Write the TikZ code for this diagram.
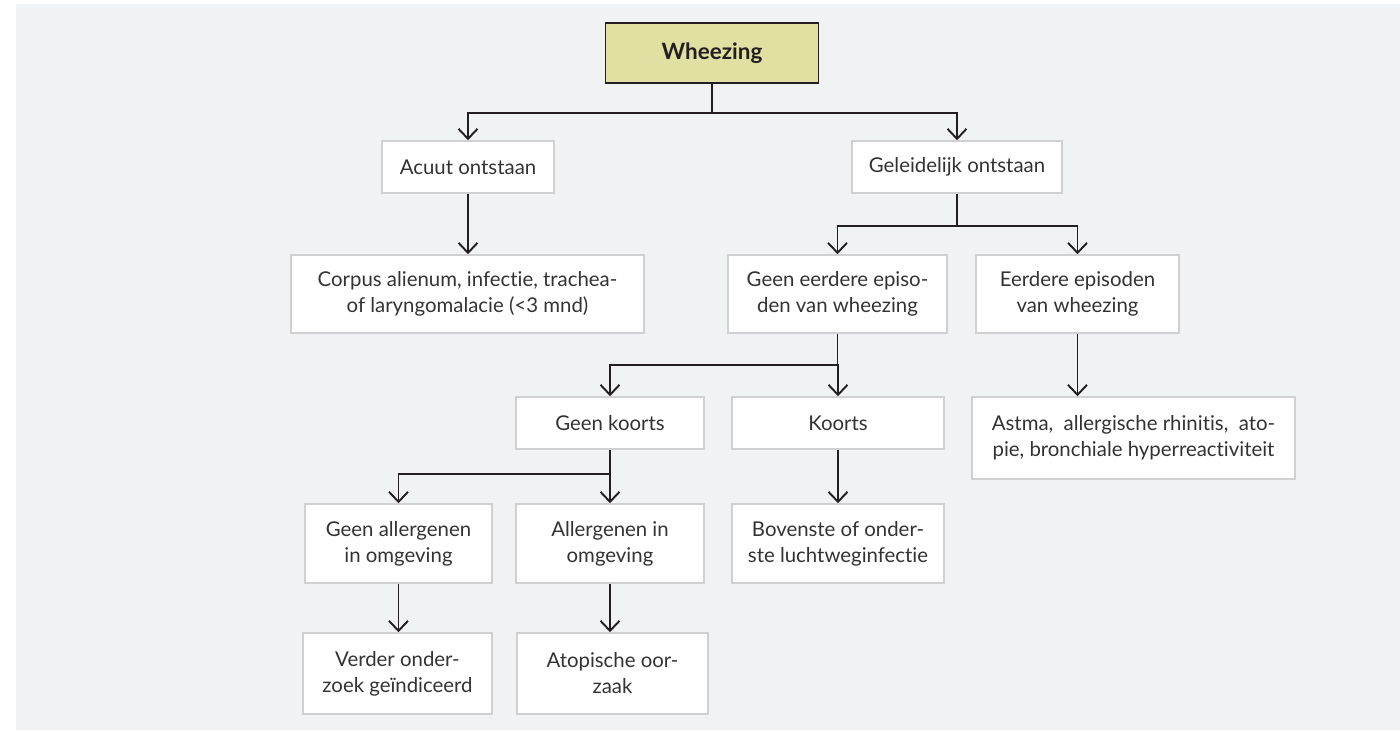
\documentclass[tikz,border=0pt]{standalone}
\usepackage{fontspec}
\setmainfont[Ligatures=NoCommon]{Lato}
\usetikzlibrary{arrows.meta}
\definecolor{fondito}{RGB}{241,242,244}
\definecolor{amarillito}{RGB}{224,224,162}
\definecolor{bordecito}{RGB}{208,208,210}
\definecolor{tintita}{RGB}{35,31,32}
\definecolor{textito}{RGB}{51,51,51}
\tikzset{>={Straight Barb[length=2mm,width=3.8mm]},
  caja/.style={draw=bordecito, line width=0.9pt, fill=white, text=textito, align=center, inner sep=0pt, font=\fontsize{11.6}{14.8}\selectfont},
  titulo/.style={draw=tintita, line width=1pt, fill=amarillito, text=tintita, inner sep=0pt, font=\fontsize{12.8}{15}\selectfont\bfseries},
  flecha/.style={->, line width=1.1pt, draw=tintita}}

\begin{document}
\begin{tikzpicture}[x=0.02cm,y=-0.02cm]
  \useasboundingbox (0,0) rectangle (1400,731);
  \fill[fondito] (16,4) rectangle (1400,730);

  \node[titulo, minimum width=4.26cm, minimum height=1.2cm] (wheezing) at (712,53) {Wheezing};
  \node[caja, minimum width=3.44cm, minimum height=1.04cm] (acuut) at (468,167) {Acuut ontstaan};
  \node[caja, minimum width=4.2cm, minimum height=1.04cm] (geleidelijk) at (957,167) {Geleidelijk ontstaan};
  \node[caja, minimum width=7.06cm, minimum height=1.56cm] (corpus) at (467.5,294) {Corpus alienum, infectie, trachea-\\of laryngomalacie (<3 mnd)};
  \node[caja, minimum width=4.38cm, minimum height=1.56cm] (geenepisoden) at (837.5,294) {Geen eerdere episo-\\den van wheezing};
  \node[caja, minimum width=4.06cm, minimum height=1.56cm] (episoden) at (1077.5,294) {Eerdere episoden\\van wheezing};
  \node[caja, minimum width=3.76cm, minimum height=1.04cm] (geenkoorts) at (610,423) {Geen koorts};
  \node[caja, minimum width=4.24cm, minimum height=1.04cm] (koorts) at (838,423) {Koorts};
  \node[caja, minimum width=6.46cm, minimum height=1.64cm] (astma) at (1133.5,438) {Astma,\ \ allergische rhinitis,\ \ ato-\\pie, bronchiale hyperreactiviteit};
  \node[caja, minimum width=3.74cm, minimum height=1.58cm] (geenallergenen) at (398.5,543.5) {Geen allergenen\\in omgeving};
  \node[caja, minimum width=3.76cm, minimum height=1.58cm] (allergenen) at (610,543.5) {Allergenen in\\omgeving};
  \node[caja, minimum width=4.24cm, minimum height=1.58cm] (luchtweg) at (838,543.5) {Bovenste of onder-\\ste luchtweginfectie};
  \node[caja, minimum width=3.78cm, minimum height=1.62cm] (onderzoek) at (397.5,673.5) {Verder onder-\\zoek geïndiceerd};
  \node[caja, minimum width=3.82cm, minimum height=1.62cm] (atopisch) at (612.5,673.5) {Atopische oor-\\zaak};

  \draw[flecha] (wheezing.south) -- ++(0,29) -| (acuut.north);
  \draw[flecha] (wheezing.south) -- ++(0,29) -| (geleidelijk.north);
  \draw[flecha] (acuut.south) -- (acuut.south |- corpus.north);
  \draw[flecha] (geleidelijk.south) -- ++(0,32) -| (geenepisoden.north);
  \draw[flecha] (geleidelijk.south) -- ++(0,32) -| (episoden.north);
  \draw[flecha] (geenepisoden.south) -- ++(0,31) -| (geenkoorts.north);
  \draw[flecha] (geenepisoden.south) -- ++(0,31) -| (koorts.north);
  \draw[flecha] (episoden.south) -- (episoden.south |- astma.north);
  \draw[flecha] (koorts.south) -- (luchtweg.north);
  \draw[flecha] (geenkoorts.south) -- ++(0,24) -| (geenallergenen.north);
  \draw[flecha] (geenkoorts.south) -- ++(0,24) -| (allergenen.north);
  \draw[flecha] (geenallergenen.south) -- (geenallergenen.south |- onderzoek.north);
  \draw[flecha] (allergenen.south) -- (allergenen.south |- atopisch.north);
\end{tikzpicture}
\end{document}
